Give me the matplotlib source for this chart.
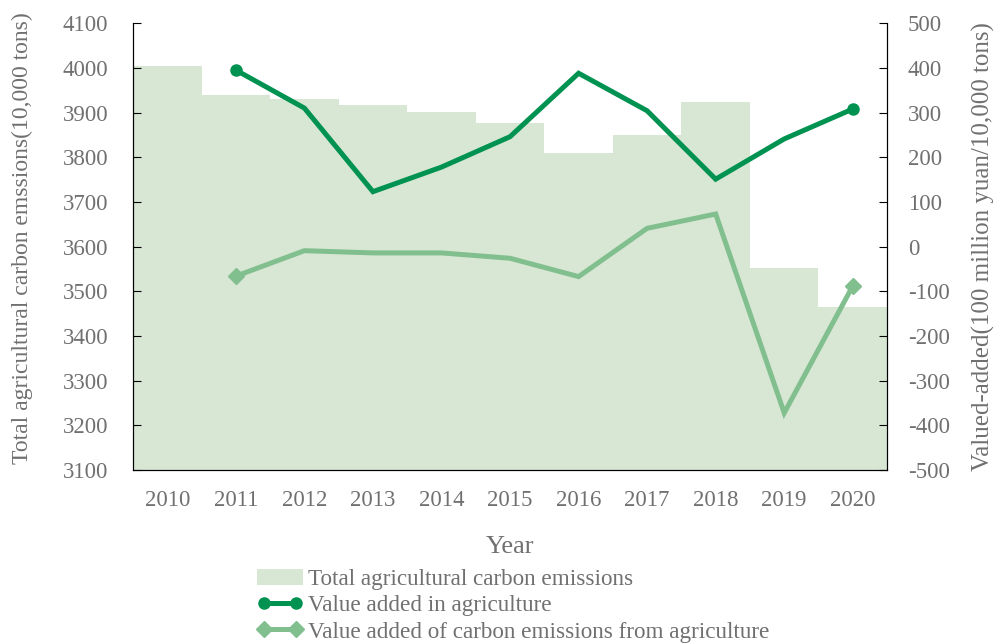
import numpy as np
import matplotlib.pyplot as plt
from matplotlib.lines import Line2D
from matplotlib.patches import Patch

years = ['2010', '2011', '2012', '2013', '2014', '2015', '2016', '2017', '2018', '2019', '2020']
total_emissions = [4004, 3939, 3930, 3917, 3902, 3876, 3809, 3850, 3924, 3552, 3465]

line_years = years[1:]
value_added = [395, 310, 123, 178, 246, 388, 304, 151, 241, 308]
value_added_emissions = [-66, -9, -14, -14, -26, -67, 41, 73, -372, -88]

bar_color = '#d8e7d4'
dark_green = '#009250'
light_green = '#82bf8f'
text_grey = '#707070'

plt.rcParams['font.family'] = ['Liberation Serif', 'DejaVu Serif']
plt.rcParams['axes.unicode_minus'] = False

fig = plt.figure(figsize=(9.95, 6.44), dpi=100)
ax = fig.add_axes([0.1337, 0.270, 0.7578, 0.694])

x = np.arange(len(years))
ax.bar(x, total_emissions, width=1.0, color=bar_color, zorder=1)
ax.set_xlim(-0.5, len(years) - 0.5)
ax.set_ylim(3100, 4100)
ax.set_yticks(np.arange(3100, 4101, 100))
ax.set_xticks(x)
ax.set_xticklabels(years)
ax.tick_params(axis='y', direction='in', length=6, labelsize=16.5, labelcolor=text_grey, pad=18)
ax.tick_params(axis='x', length=0, labelsize=16.5, labelcolor=text_grey, pad=14)
ax.spines['top'].set_visible(False)
ax.set_xlabel('Year', fontsize=19, color=text_grey, labelpad=18)
ax.set_ylabel('Total agricultural carbon emssions(10,000 tons)', fontsize=17, color=text_grey)
ax.yaxis.set_label_coords(-0.133, 0.52)

ax2 = ax.twinx()
xl = np.arange(1, len(years))
ax2.plot(xl, value_added, color=dark_green, lw=3.6, solid_joinstyle='miter', zorder=3)
ax2.plot(xl[[0, -1]], np.array(value_added)[[0, -1]], 'o', color=dark_green, ms=8, zorder=3)
ax2.plot(xl, value_added_emissions, color=light_green, lw=3.6, solid_joinstyle='miter', zorder=2)
ax2.plot(xl[[0, -1]], np.array(value_added_emissions)[[0, -1]], 'D', color=light_green, ms=8, zorder=2)
ax2.set_ylim(-500, 500)
ax2.set_yticks(np.arange(-500, 501, 100))
ax2.tick_params(axis='y', direction='in', length=6, labelsize=16.5, labelcolor=text_grey, pad=15)
ax2.spines['top'].set_visible(False)
ax2.set_ylabel('Valued-added(100 million yuan/10,000 tons)', fontsize=18, color=text_grey)
ax2.yaxis.set_label_coords(1.112, 0.5)

handles = [
    Patch(facecolor=bar_color, edgecolor='none'),
    Line2D([], [], color=dark_green, lw=3.6, marker='o', ms=8),
    Line2D([], [], color=light_green, lw=3.6, marker='D', ms=8),
]
labels = ['Total agricultural carbon emissions',
          'Value added in agriculture',
          'Value added of carbon emissions from agriculture']
leg = fig.legend(handles, labels, loc='upper left', bbox_to_anchor=(0.258, 0.117),
                 frameon=False, fontsize=16.7, handlelength=2.0, handletextpad=0.2,
                 labelspacing=0.22, borderpad=0, borderaxespad=0, numpoints=2)
for t in leg.get_texts():
    t.set_color(text_grey)

fig.savefig('out.png', dpi=100)
